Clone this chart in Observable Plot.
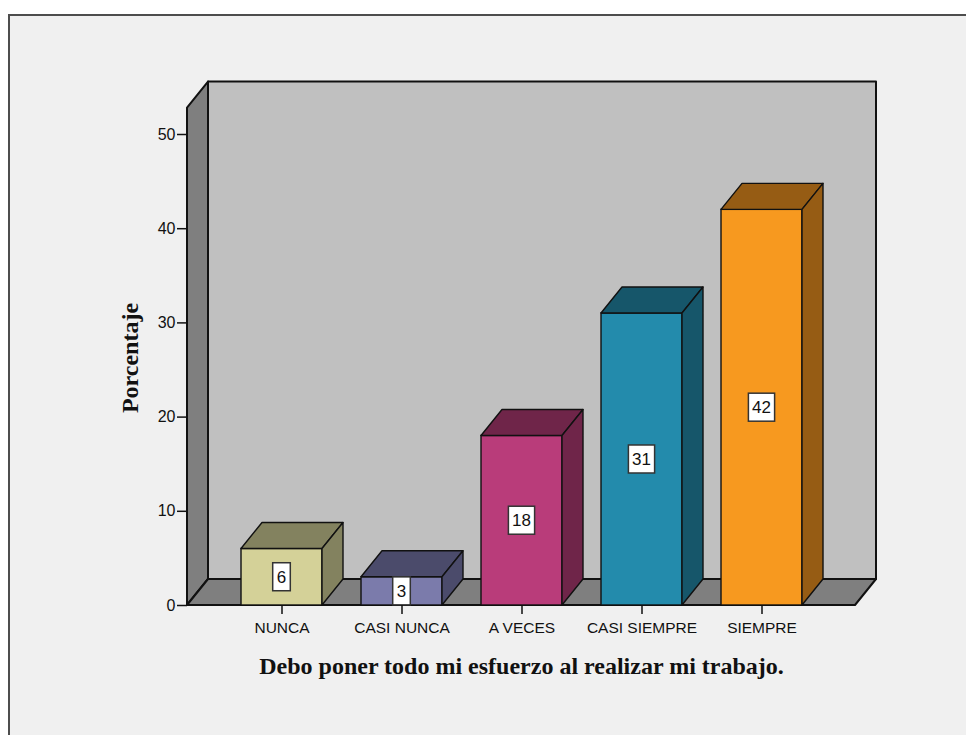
<!DOCTYPE html>
<html>
<head>
<meta charset="utf-8">
<script src="https://cdn.jsdelivr.net/npm/d3@7"></script>
<script src="https://cdn.jsdelivr.net/npm/@observablehq/plot@0.6"></script>
<style>
  html, body { margin: 0; padding: 0; background: #ffffff; overflow: hidden; }
  #panel {
    position: absolute; left: 8px; top: 14px; width: 1000px; height: 800px;
    background: #f0f0f0; border: 2px solid #4d4d4d; box-sizing: border-box;
  }
  #chart { position: absolute; left: 0; top: 0; }
</style>
</head>
<body>
<div id="panel"></div>
<div id="chart"></div>
<script>
// Survey responses (percent of respondents)
const categories = ["NUNCA", "CASI NUNCA", "A VECES", "CASI SIEMPRE", "SIEMPRE"];
const percentages = [6, 3, 18, 31, 42];
const yTicks = [0, 10, 20, 30, 40, 50];
const yTitle = "Porcentaje";
const xTitle = "Debo poner todo mi esfuerzo al realizar mi trabajo.";

// Bar face colours: front face and the darker top/side faces
const frontColors = ["#d4d198", "#7b7bab", "#b93c7a", "#238bac", "#f7991f"];
const shadeColors = ["#83825f", "#4b4b6b", "#6f2549", "#16566a", "#965c14"];

const rows = categories.map((category, i) => ({category, value: percentages[i]}));
const shadeOf = new Map(categories.map((c, i) => [c, shadeColors[i]]));

// Pseudo-3D depth of the chart box and of each bar (pixels)
const DEPTH_X = 21, DEPTH_Y = -26;
const WALL_TOP = 52.8; // value reached by the walls above the last tick

const NS = "http://www.w3.org/2000/svg";
function el(tag, attrs) {
  const node = document.createElementNS(NS, tag);
  for (const [k, v] of Object.entries(attrs)) node.setAttribute(k, v);
  return node;
}
function polygon(points, fill, strokeWidth = 1.5) {
  return el("polygon", {
    points: points.map(p => p.join(",")).join(" "),
    fill, stroke: "#111", "stroke-width": strokeWidth, "stroke-linejoin": "round"
  });
}
function bandwidthOf(scales) {
  const x = scales.x;
  if (typeof x.bandwidth === "function") return x.bandwidth();
  return scales.scales?.x?.bandwidth ?? 0;
}

// Back wall, left wall and floor of the chart box
function walls(index, scales, values, dims) {
  const {y} = scales;
  const x0 = dims.marginLeft, x1 = dims.width - dims.marginRight;
  const y0 = y(0), yT = y(WALL_TOP);
  const g = el("g", {});
  g.append(polygon([[x0 + DEPTH_X, y0 + DEPTH_Y], [x1 + DEPTH_X, y0 + DEPTH_Y],
                    [x1 + DEPTH_X, yT + DEPTH_Y], [x0 + DEPTH_X, yT + DEPTH_Y]], "#c0c0c0", 2));
  g.append(polygon([[x0, y0], [x0 + DEPTH_X, y0 + DEPTH_Y],
                    [x0 + DEPTH_X, yT + DEPTH_Y], [x0, yT]], "#7f7f7f", 2));
  g.append(polygon([[x0, y0], [x1, y0], [x1 + DEPTH_X, y0 + DEPTH_Y],
                    [x0 + DEPTH_X, y0 + DEPTH_Y]], "#7f7f7f", 2));
  return g;
}

// Top and right faces of each bar
function barDepth(index, scales) {
  const {x, y} = scales;
  const bw = bandwidthOf(scales);
  const g = el("g", {});
  const y0 = y(0);
  for (const d of rows) {
    const xl = x(d.category), xr = xl + bw, yv = y(d.value);
    const shade = shadeOf.get(d.category);
    g.append(polygon([[xl, yv], [xl + DEPTH_X, yv + DEPTH_Y],
                      [xr + DEPTH_X, yv + DEPTH_Y], [xr, yv]], shade, 1.4));
    g.append(polygon([[xr, yv], [xr + DEPTH_X, yv + DEPTH_Y],
                      [xr + DEPTH_X, y0 + DEPTH_Y], [xr, y0]], shade, 1.4));
  }
  return g;
}

// Boxed value labels at mid-height of each bar
function valueLabels(index, scales) {
  const {x, y} = scales;
  const bw = bandwidthOf(scales);
  const g = el("g", {});
  for (const d of rows) {
    const cx = x(d.category) + bw / 2, cy = y(d.value / 2);
    const label = String(d.value);
    const w = 9 + 8.6 * label.length, h = 28;
    g.append(el("rect", {x: cx - w / 2, y: cy - h / 2, width: w, height: h,
                         fill: "#ffffff", stroke: "#333", "stroke-width": 1.5}));
    const t = el("text", {x: cx, y: cy, "text-anchor": "middle", dy: "0.36em",
                          "font-family": "'Liberation Sans', Arial, sans-serif",
                          "font-size": 17, fill: "#111"});
    t.textContent = label;
    g.append(t);
  }
  return g;
}

const chart = Plot.plot({
  width: 966,
  height: 735,
  marginLeft: 187,
  marginRight: 111,
  marginTop: 134,
  marginBottom: 130,
  style: {background: "transparent", fontFamily: "'Liberation Sans', Arial, sans-serif", color: "#111"},
  x: {type: "band", domain: categories, paddingInner: 0.326, paddingOuter: 0.444},
  y: {domain: [0, 50]},
  color: {domain: categories, range: frontColors},
  marks: [
    walls,
    Plot.barY(rows, {x: "category", y: "value", fill: "category", stroke: "#111", strokeWidth: 1.4}),
    barDepth,
    valueLabels,
    Plot.axisY({ticks: yTicks, tickSize: 10, tickPadding: 2, fontSize: 16, strokeWidth: 1.5, label: null}),
    Plot.axisX({tickSize: 9, tickPadding: 7, fontSize: 15.5, strokeWidth: 1.5, label: null}),
    Plot.text([yTitle], {frameAnchor: "left", dx: -57, dy: -12, rotate: -90,
                         textAnchor: "middle", lineAnchor: "middle",
                         fontFamily: "'Liberation Serif', 'Times New Roman', serif",
                         fontWeight: "bold", fontSize: 24, fill: "#111"}),
    Plot.text([xTitle], {frameAnchor: "bottom", dy: 61, lineAnchor: "middle",
                         fontFamily: "'Liberation Serif', 'Times New Roman', serif",
                         fontWeight: "bold", fontSize: 24, fill: "#111"})
  ]
});

document.getElementById("chart").append(chart);
</script>
</body>
</html>
